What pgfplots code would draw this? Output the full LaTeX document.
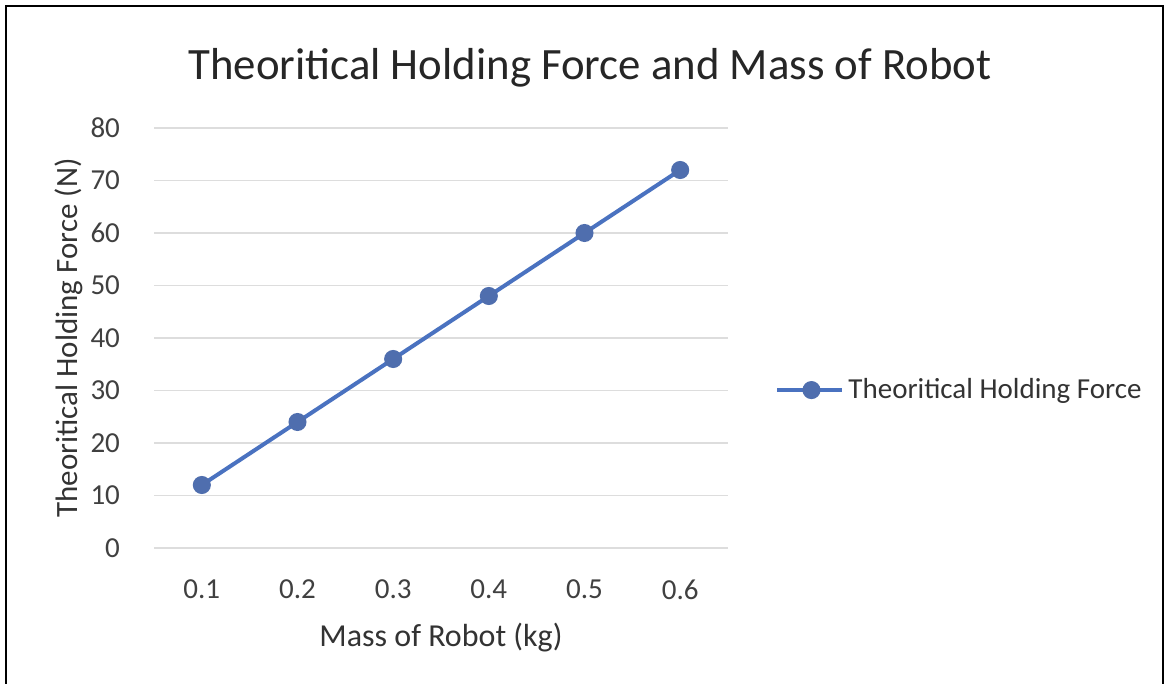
\documentclass[border=0pt]{standalone}
\usepackage{fontspec}
\setmainfont{Carlito}
\usepackage{pgfplots}
\pgfplotsset{compat=1.18}
\definecolor{serblue}{HTML}{4A72C0}
\definecolor{mkblue}{HTML}{4F6EAE}
\definecolor{gridc}{HTML}{DDDDDD}
\begin{document}
\begin{tikzpicture}
\path[fill=white] (0,0) rectangle (584pt,342pt);
\draw[black,line width=1pt] (3pt,0) -- (3pt,339pt) -- (581.5pt,339pt) -- (581.5pt,0);
\node[font=\fontsize{22.4}{26}\selectfont,text=black!85] at (295pt,308pt) {Theoritical Holding Force and Mass of Robot};
\begin{axis}[
  at={(77pt,68pt)}, anchor=south west,
  width=287pt, height=210pt, scale only axis,
  xmin=0.05, xmax=0.65, ymin=0, ymax=80,
  xtick={0.1,0.2,0.3,0.4,0.5,0.6},
  xticklabels={0.1,0.2,0.3,0.4,0.5,0.6},
  ytick={0,10,...,80},
  axis line style={draw=none},
  tick style={draw=none},
  ymajorgrids, grid style={gridc, line width=0.6pt},
  ticklabel style={font=\fontsize{14.5}{17}\selectfont, text=black!75},
  /pgf/number format/assume math mode=true,
  yticklabel style={xshift=-13.5pt},
  xticklabel style={yshift=-12.5pt},
  xlabel={Mass of Robot (kg)},
  ylabel={Theoritical Holding Force (N)},
  xlabel style={font=\fontsize{16}{19}\selectfont, text=black!80, at={(rel axis cs:0.5,0)}, yshift=-34pt},
  ylabel style={font=\fontsize{15.5}{18}\selectfont, text=black!80, yshift=-3pt},
  legend style={at={(rel axis cs:1.082,0.376)}, anchor=west, draw=none, fill=none,
    font=\fontsize{14.5}{17}\selectfont, text=black!80, inner sep=0pt},
  legend cell align=left,
  legend image code/.code={
    \draw[serblue, line width=2pt] (0pt,0pt) -- (32.5pt,0pt);
    \fill[mkblue] (17pt,0pt) circle (3.5pt);
  },
]
\addplot[serblue, line width=2pt, mark=*, mark size=3.5pt,
  mark options={fill=mkblue, draw=mkblue}]
  coordinates {(0.1,12) (0.2,24) (0.3,36) (0.4,48) (0.5,60) (0.6,72)};
\addlegendentry{Theoritical Holding Force}
\end{axis}
\end{tikzpicture}
\end{document}
